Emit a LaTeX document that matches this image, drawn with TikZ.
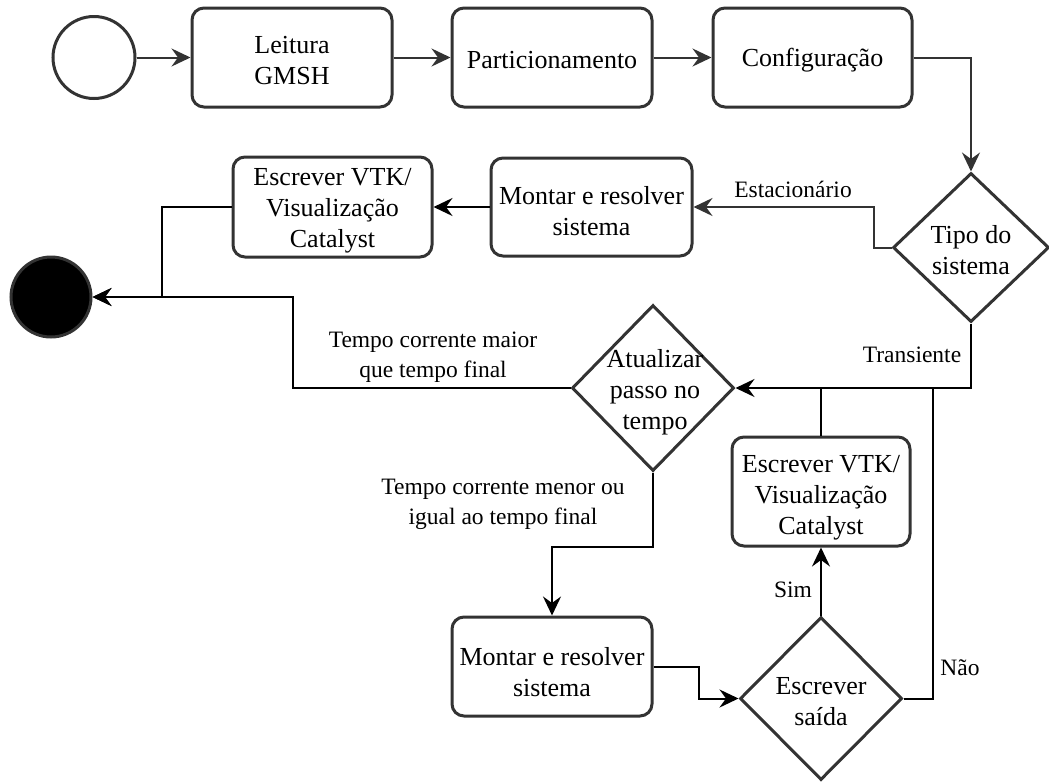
\documentclass[tikz,border=0pt]{standalone}
\usepackage{fontspec}
\setmainfont{Liberation Serif}
\usetikzlibrary{shapes.geometric,arrows.meta}
\definecolor{edge}{HTML}{333333}

\tikzset{
  box/.style={draw=edge, line width=3pt, rounded corners=12pt, inner sep=0pt},
  decision/.style={draw=edge, line width=3pt, diamond, inner sep=0pt},
  txt/.style={align=center, font=\fontsize{26}{31}\selectfont, inner sep=0pt},
  lbl/.style={align=center, font=\fontsize{23.5}{30}\selectfont, inner sep=0pt},
  flow/.style={line width=2pt, -{Stealth[length=19pt,width=18pt,inset=6.5pt]}},
  link/.style={line width=2pt},
}

\begin{document}
\begin{tikzpicture}[x=1pt,y=-1pt]
\useasboundingbox (0,0) rectangle (1049,782);

% initial and final states
\node[circle, draw=edge, line width=3pt, minimum size=82pt, inner sep=0pt] (start) at (94,57.5) {};
\node[circle, draw=edge, fill=black, line width=3pt, minimum size=80pt, inner sep=0pt] (fim) at (51,297) {};

% preprocessing chain
\node[box, minimum width=200pt, minimum height=99pt] (leit) at (292,57.5) {};
\node[txt] (leitT) at (292,61) {Leitura\\GMSH};
\node[box, minimum width=200pt, minimum height=99pt] (part) at (552,57.5) {};
\node[txt] (partT) at (552,60.5) {Particionamento};
\node[box, minimum width=199pt, minimum height=99pt] (conf) at (812.5,57.5) {};
\node[txt] (confT) at (812.5,60) {Configuração};

% system type decision
\node[decision, minimum width=156pt, minimum height=149pt] (tipo) at (971,247.5) {};
\node[txt] (tipoT) at (971,250) {Tipo do\\sistema};

% stationary branch
\node[box, minimum width=201pt, minimum height=98pt] (mont1) at (591.5,207) {};
\node[txt] (mont1T) at (591.5,211) {Montar e resolver\\sistema};
\node[box, minimum width=199pt, minimum height=100pt] (vtk1) at (332.5,207) {};
\node[txt] (vtk1T) at (332.5,211) {Escrever VTK/\\Visualização\\Catalyst};

% transient loop
\node[decision, minimum width=162pt, minimum height=166pt] (atual) at (653,388) {};
\node[txt] (atualT) at (655,392) {Atualizar\\passo no\\tempo};
\node[box, minimum width=200pt, minimum height=99pt] (mont2) at (552,666.5) {};
\node[txt] (mont2T) at (552,672) {Montar e resolver\\sistema};
\node[decision, minimum width=162pt, minimum height=163pt] (saida) at (821,698.5) {};
\node[txt] (saidaT) at (821,701.5) {Escrever\\saída};
\node[box, minimum width=178pt, minimum height=109pt] (vtk2) at (821,491.5) {};
\node[txt] (vtk2T) at (821,497.5) {Escrever VTK/\\Visualização\\Catalyst};

% junction points
\coordinate (j1) at (293,297);
\coordinate (j2) at (933,388);

% connectors
\draw[flow, edge] (start.east) -- (start.east -| leit.west);
\draw[flow, edge] (leit.east) -- (leit.east -| part.west);
\draw[flow, edge] (part.east) -- (part.east -| conf.west);
\draw[flow, edge] (conf.east) -| (tipo.north);
\draw[flow, edge] (tipo.west) -- ++(-18,0) |- (mont1.east);
\draw[flow] (mont1.west) -- (mont1.west -| vtk1.east);
\draw[flow] (vtk1.west) -- ++(-70,0) |- (fim.east);
\draw[flow] (tipo.south) |- (atual.east);
\draw[flow] (atual.west) -| (j1) -- (fim.east);
\draw[flow] (atual.south) -- ++(0,74) -| (mont2.north);
\draw[flow] (mont2.east) -- ++(45,0) |- (saida.west);
\draw[flow] (saida.north) -- (vtk2.south);
\draw[link] (vtk2.north) -- (vtk2.north |- atual.east);
\draw[link] (saida.east) -| (j2);

% edge labels
\node[lbl] (lEst) at (793,189) {Estacionário};
\node[lbl] (lTra) at (912,355) {Transiente};
\node[lbl] (lMai) at (433,357) {Tempo corrente maior\\que tempo final};
\node[lbl] (lMen) at (503,504) {Tempo corrente menor ou\\igual ao tempo final};
\node[lbl] (lSim) at (793,590) {Sim};
\node[lbl] (lNao) at (960,668) {Não};
\end{tikzpicture}
\end{document}
